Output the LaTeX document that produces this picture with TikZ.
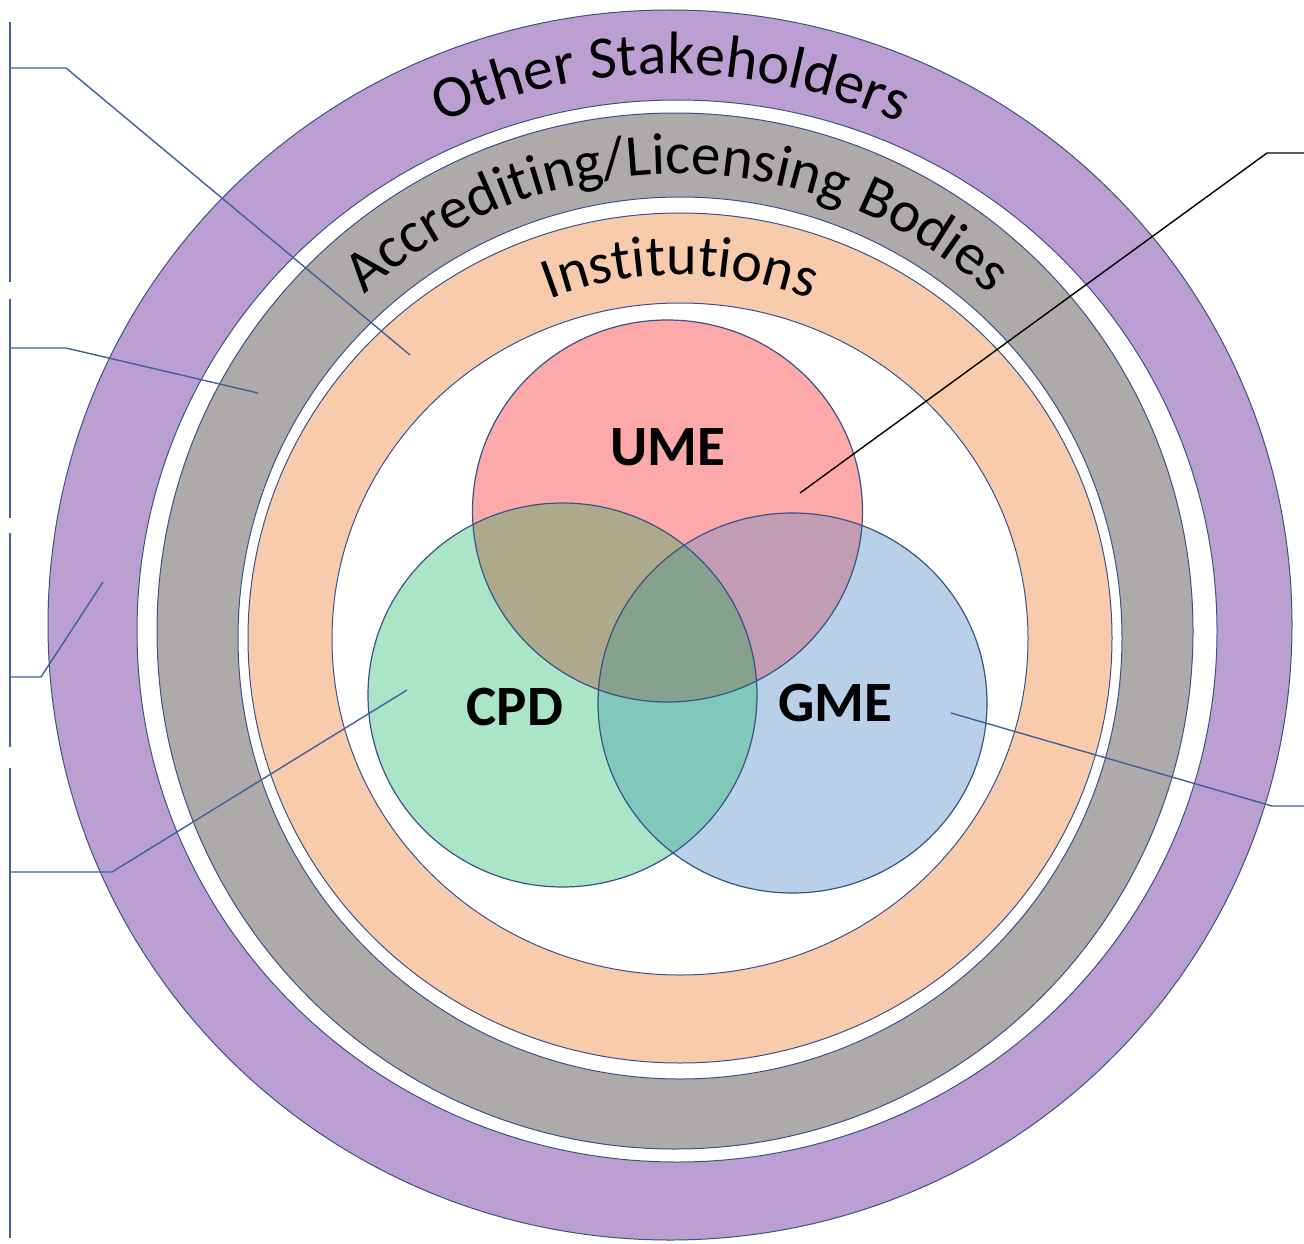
\documentclass[tikz,border=0pt]{standalone}
\usepackage{fontspec}
\setmainfont{Carlito}
\usetikzlibrary{decorations.text}

\definecolor{edgeblue}{HTML}{3A5289}
\definecolor{leaderblue}{HTML}{41609C}
\definecolor{purpleband}{HTML}{BB9FD3}
\definecolor{grayband}{HTML}{ADAAA9}
\definecolor{orangeband}{HTML}{F8CBAD}
\definecolor{umefill}{HTML}{FDA9AA}
\definecolor{cpdfill}{HTML}{AAE5C8}
\definecolor{gmefill}{HTML}{B8D0E8}
\definecolor{umecpd}{HTML}{ADAA8C}
\definecolor{umegme}{HTML}{C29CB2}
\definecolor{cpdgme}{HTML}{80C8BA}
\definecolor{allthree}{HTML}{86A28E}

\tikzset{
  ringedge/.style={draw=edgeblue, line width=1pt},
  vennedge/.style={draw=edgeblue, line width=1.2pt},
  leader/.style={draw=leaderblue, line width=1.4pt},
  darkleader/.style={draw=black, line width=1.4pt},
  bracketbar/.style={draw=leaderblue, line width=2.2pt},
  venntext/.style={font=\fontsize{57}{57}\selectfont\bfseries, text=black, inner sep=0pt},
  ringtext/.style={decorate, decoration={text along path, text align=center, text={#1}}}
}

% title text of each band, with its size
\newcommand{\outerlabel}{|\fontsize{60}{60}\selectfont|Other Stakeholders}
\newcommand{\middlelabel}{|\fontsize{59}{59}\selectfont|Accrediting/Licensing Bodies}
\newcommand{\innerlabel}{|\fontsize{58}{58}\selectfont|Institutions}

\begin{document}
\begin{tikzpicture}[x=1pt, y=-1pt]
\useasboundingbox (0,0) rectangle (1304,1244);
\fill[white] (0,0) rectangle (1304,1244);

% centres of the rings and of the three circles
\coordinate (outerC) at (670,625);
\coordinate (purpleIn) at (677,631);
\coordinate (grayOut) at (675,631);
\coordinate (grayIn) at (680,638);
\coordinate (orangeOut) at (680,638);
\coordinate (orangeIn) at (680,639);
\coordinate (umeC) at (667.5,511);
\coordinate (cpdC) at (562.5,695);
\coordinate (gmeC) at (792.5,703);

% concentric bands
\path[ringedge, fill=purpleband] (outerC) ellipse [x radius=622, y radius=615];
\path[ringedge, fill=white] (purpleIn) ellipse [x radius=540, y radius=531];
\path[ringedge, fill=grayband] (grayOut) ellipse [x radius=518, y radius=518];
\path[ringedge, fill=white] (grayIn) ellipse [x radius=442, y radius=441];
\path[ringedge, fill=orangeband] (orangeOut) ellipse [x radius=432, y radius=425];
\path[ringedge, fill=white] (orangeIn) ellipse [x radius=348, y radius=336];

% band titles set along arcs
\path[ringtext=\outerlabel]
  (671,630) ++(200:556) arc[start angle=200, end angle=340, radius=556];
\path[ringtext=\middlelabel]
  (677,638) ++(190:464) arc[start angle=190, end angle=350, radius=464];
\path[ringtext=\innerlabel]
  (680,638) ++(215:363) arc[start angle=215, end angle=325, radius=363];

% three overlapping circles, each region filled on its own
\fill[umefill] (umeC) ellipse [x radius=195, y radius=191];
\fill[cpdfill] (cpdC) ellipse [x radius=194.5, y radius=192];
\fill[gmefill] (gmeC) ellipse [x radius=194.5, y radius=190];
\begin{scope}
  \clip (umeC) ellipse [x radius=195, y radius=191];
  \fill[umecpd] (cpdC) ellipse [x radius=194.5, y radius=192];
  \fill[umegme] (gmeC) ellipse [x radius=194.5, y radius=190];
\end{scope}
\begin{scope}
  \clip (cpdC) ellipse [x radius=194.5, y radius=192];
  \fill[cpdgme] (gmeC) ellipse [x radius=194.5, y radius=190];
  \clip (gmeC) ellipse [x radius=194.5, y radius=190];
  \fill[allthree] (umeC) ellipse [x radius=195, y radius=191];
\end{scope}
\path[vennedge] (umeC) ellipse [x radius=195, y radius=191];
\path[vennedge] (cpdC) ellipse [x radius=194.5, y radius=192];
\path[vennedge] (gmeC) ellipse [x radius=194.5, y radius=190];

\node[venntext] (ume) at (668,447) {UME};
\node[venntext] (cpd) at (515,707) {CPD};
\node[venntext] (gme) at (835,703) {GME};

% bracket bars on the left
\coordinate (b1t) at (10,22);   \coordinate (b1b) at (10,282);
\coordinate (b2t) at (10,299);  \coordinate (b2b) at (10,518);
\coordinate (b3t) at (10,533);  \coordinate (b3b) at (10,747);
\coordinate (b4t) at (10,768);  \coordinate (b4b) at (10,1238);
\draw[bracketbar] (b1t) -- (b1b);
\draw[bracketbar] (b2t) -- (b2b);
\draw[bracketbar] (b3t) -- (b3b);
\draw[bracketbar] (b4t) -- (b4b);

% leader lines
\coordinate (l1a) at (10,68);   \coordinate (l1b) at (66,68);   \coordinate (l1c) at (410,355);
\coordinate (l2a) at (10,348);  \coordinate (l2b) at (66,348);  \coordinate (l2c) at (258,393);
\coordinate (l3a) at (10,677);  \coordinate (l3b) at (41,677);  \coordinate (l3c) at (103,582);
\coordinate (l4a) at (10,872);  \coordinate (l4b) at (112,872); \coordinate (l4c) at (407,690);
\coordinate (r1a) at (1304,153); \coordinate (r1b) at (1267,153); \coordinate (r1c) at (800,493);
\coordinate (r2a) at (1304,806); \coordinate (r2b) at (1272,806); \coordinate (r2c) at (951,713);

\draw[leader] (l1a) -- (l1b) -- (l1c);
\draw[leader] (l2a) -- (l2b) -- (l2c);
\draw[leader] (l3a) -- (l3b) -- (l3c);
\draw[leader] (l4a) -- (l4b) -- (l4c);
\draw[darkleader] (r1a) -- (r1b) -- (r1c);
\draw[leader] (r2a) -- (r2b) -- (r2c);
\end{tikzpicture}
\end{document}
